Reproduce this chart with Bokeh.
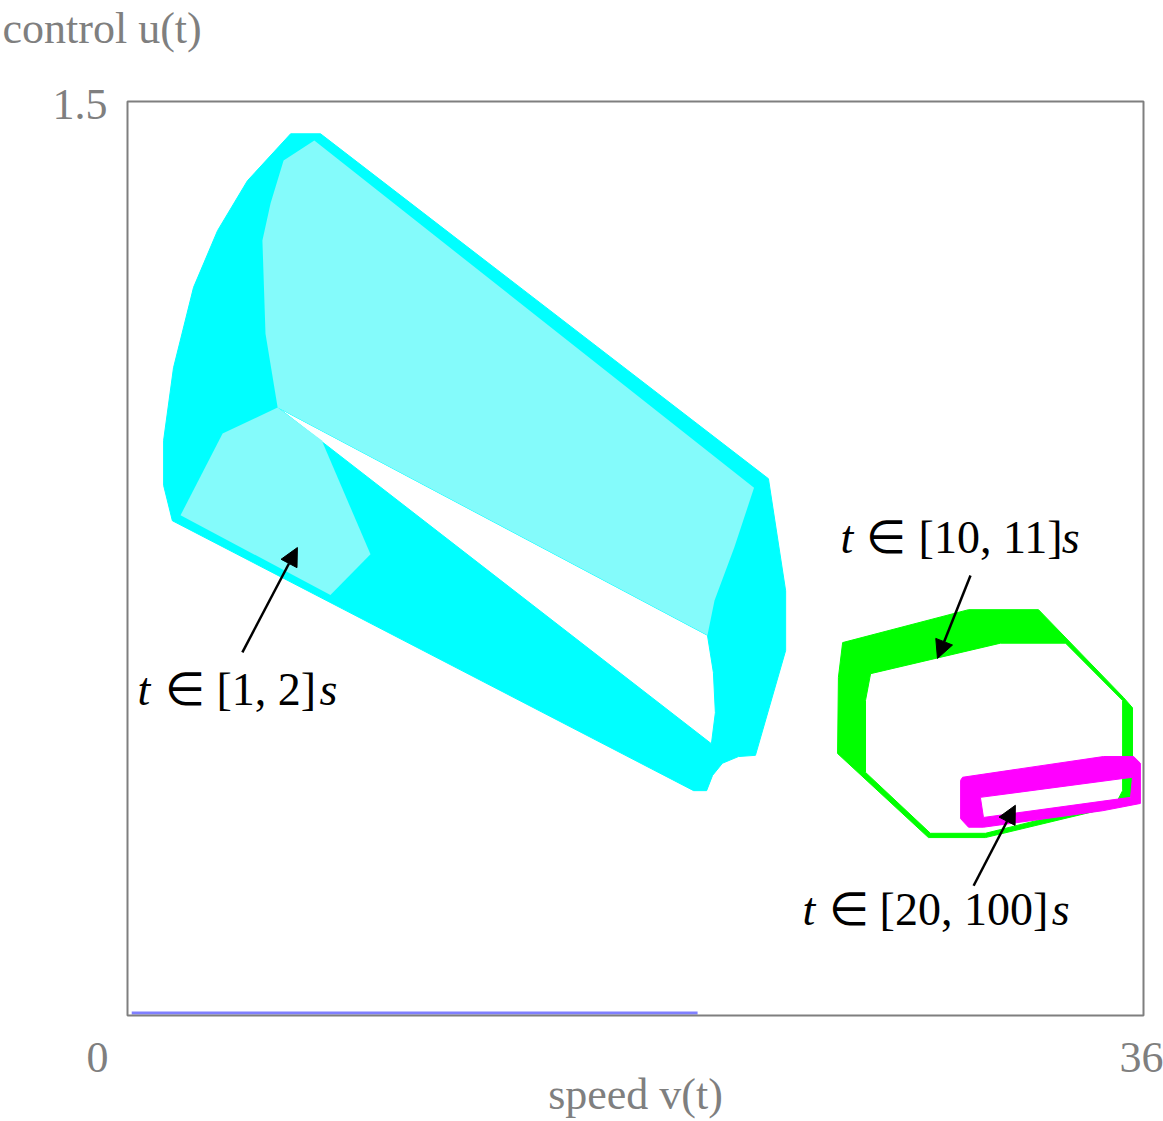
from bokeh.plotting import figure
from bokeh.models import Range1d, Label, Arrow, NormalHead
from bokeh.embed import file_html
from bokeh.resources import INLINE

# ---------------- data (speed v, control u) ----------------
V_MIN, V_MAX = 0, 36
U_MIN, U_MAX = 0, 1.5
x_ticks = [0, 36]
y_ticks = [1.5]
x_title = "speed v(t)"
y_title = "control u(t)"

# initial set t = 0 (segment on u = 0)
init_v = [0.15, 20.2]
init_u = [0.004, 0.004]

# reachable tube t in [1, 2] s : silhouette of the swept sets
tube12_v = [5.78, 6.84, 22.71, 23.32, 23.32, 22.25, 21.65, 21.08, 20.73, 20.52, 20.06,
            1.59, 1.28, 1.28, 1.63, 2.34, 3.19, 4.25]
tube12_u = [1.447, 1.447, 0.881, 0.697, 0.599, 0.427, 0.425, 0.414, 0.394, 0.369, 0.369,
            0.812, 0.870, 0.944, 1.063, 1.195, 1.288, 1.370]
# uncovered gap inside the tube
gap12_v = [5.32, 20.55, 20.76, 20.83, 20.69]
gap12_u = [0.998, 0.624, 0.563, 0.497, 0.446]
# thinly covered (hatched) part of the upper sweep
upper12_v = [5.32, 4.89, 4.78, 5.07, 5.53, 6.62, 22.20, 21.50, 20.80, 20.55]
upper12_u = [0.998, 1.119, 1.272, 1.333, 1.403, 1.436, 0.866, 0.768, 0.681, 0.624]
# thinly covered (hatched) part of the lower sweep
lower12_v = [1.88, 3.37, 5.32, 6.88, 8.61, 7.19]
lower12_u = [0.821, 0.955, 0.998, 0.944, 0.757, 0.690]

# reachable set t in [10, 11] s (ring)
set1011_outer_v = [25.34, 29.80, 32.28, 35.29, 35.61, 35.61, 35.43, 30.40, 28.38, 25.16, 25.19]
set1011_outer_u = [0.612, 0.666, 0.666, 0.522, 0.505, 0.369, 0.348, 0.292, 0.292, 0.430, 0.555]
set1011_inner_v = [26.33, 30.93, 33.24, 35.26, 35.26, 35.08, 30.40, 28.45, 26.15, 26.15]
set1011_inner_u = [0.561, 0.611, 0.611, 0.517, 0.369, 0.353, 0.299, 0.299, 0.399, 0.517]

# reachable set t in [20, 100] s (ring)
set20100_outer_v = [29.59, 34.58, 35.65, 35.89, 35.89, 34.55, 30.33, 29.80, 29.52, 29.52]
set20100_outer_u = [0.391, 0.425, 0.425, 0.414, 0.348, 0.336, 0.309, 0.309, 0.323, 0.386]
set20100_inner_v = [30.22, 35.61, 35.54, 30.33]
set20100_inner_u = [0.358, 0.391, 0.358, 0.325]

# annotation label pieces: text, v, u (baseline), italic, align
ann_pieces = [
    ("t", 0.354, 0.509, True, "left"), ("\u2208", 2.02, 0.509, False, "center"),
    ("[1, 2]", 3.15, 0.509, False, "left"), ("s", 6.80, 0.509, True, "left"),
    ("t", 25.26, 0.758, True, "left"), ("\u2208", 26.89, 0.758, False, "center"),
    ("[10, 11]", 28.03, 0.758, False, "left"), ("s", 33.10, 0.758, True, "left"),
    ("t", 23.92, 0.148, True, "left"), ("\u2208", 25.55, 0.148, False, "center"),
    ("[20, 100]", 26.65, 0.148, False, "left"), ("s", 32.75, 0.148, True, "left"),
]
arrow_tail_v = [4.07, 29.87, 29.98]
arrow_tail_u = [0.596, 0.722, 0.213]
arrow_head_v = [6.02, 28.70, 31.46]
arrow_head_u = [0.768, 0.586, 0.345]

# ---------------- layout (pixels) ----------------
W, H = 1163, 1121
BOX_L, BOX_R, BOX_T, BOX_B = 127, 1143, 101, 1015
sx = (V_MAX - V_MIN) / (BOX_R - BOX_L)
sy = (U_MAX - U_MIN) / (BOX_B - BOX_T)
x_range = Range1d(V_MIN - BOX_L * sx, V_MAX + (W - BOX_R) * sx)
y_range = Range1d(U_MIN - (H - BOX_B) * sy, U_MAX + BOX_T * sy)
BASE_FIX = 16  # baseline correction for label text (px)

GRAY = "#7f7f7f"
FONT = "Liberation Serif"

p = figure(width=W, height=H, x_range=x_range, y_range=y_range,
           output_backend="svg", toolbar_location=None,
           x_axis_location=None, y_axis_location=None,
           min_border=0)
p.grid.visible = False
p.outline_line_color = None
p.background_fill_color = "white"
p.border_fill_color = "white"

# tube t in [1,2]
p.multi_polygons(xs=[[[tube12_v, gap12_v]]], ys=[[[tube12_u, gap12_u]]],
                 fill_color="#00ffff", line_color="#00ffff", line_width=1)
p.patch(upper12_v, upper12_u, fill_color="#84fbfb", line_color=None)
p.patch(lower12_v, lower12_u, fill_color="#84fbfb", line_color=None)

# t in [10,11]
p.multi_polygons(xs=[[[set1011_outer_v, set1011_inner_v]]], ys=[[[set1011_outer_u, set1011_inner_u]]],
                 fill_color="#00ff00", line_color="#00ff00", line_width=1)
# t in [20,100]
p.multi_polygons(xs=[[[set20100_outer_v, set20100_inner_v]]], ys=[[[set20100_outer_u, set20100_inner_u]]],
                 fill_color="#ff00ff", line_color="#ff00ff", line_width=1)

# initial set
p.line(init_v, init_u, line_color="#8080ff", line_width=3)

# plot box
p.quad(left=[V_MIN], right=[V_MAX], bottom=[U_MIN], top=[U_MAX],
       fill_color=None, line_color=GRAY, line_width=2)

# arrows
for tv, tu, hv, hu in zip(arrow_tail_v, arrow_tail_u, arrow_head_v, arrow_head_u):
    p.add_layout(Arrow(x_start=tv, y_start=tu, x_end=hv, y_end=hu,
                       line_color="black", line_width=2.5,
                       end=NormalHead(size=18, fill_color="black", line_color="black")))

# annotation texts
for txt, v, u, ital, align in ann_pieces:
    p.add_layout(Label(x=v, y=u, y_offset=BASE_FIX, text=txt, text_font=FONT,
                       text_font_size="46px",
                       text_font_style="italic" if ital else "normal",
                       text_color="black", text_align=align, text_baseline="alphabetic"))

def gray_label(x, y, text, align, dx, dy):
    p.add_layout(Label(x=x, y=y, x_offset=dx, y_offset=dy + BASE_FIX, text=text,
                       text_font=FONT, text_font_size="44px", text_color=GRAY,
                       text_align=align, text_baseline="alphabetic"))

# tick labels
gray_label(x_ticks[0], U_MIN, str(x_ticks[0]), "center", -30, -58)
gray_label(x_ticks[1], U_MIN, str(x_ticks[1]), "center", -2, -58)
gray_label(V_MIN, y_ticks[0], str(y_ticks[0]), "right", -20, -19)
# axis titles
gray_label((V_MIN + V_MAX) / 2, U_MIN, x_title, "center", 0, -95)
gray_label(V_MIN, U_MAX, y_title, "left", -125, 57)

open("out.html", "w").write(file_html(p, INLINE))
